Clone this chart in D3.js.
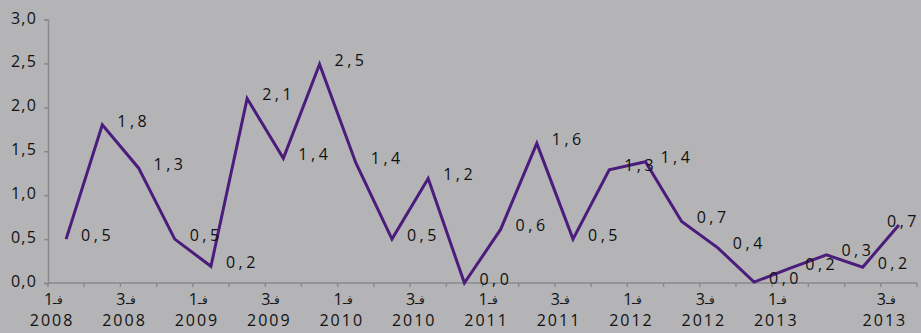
<!DOCTYPE html>
<html><head><meta charset="utf-8">
<script src="https://cdn.jsdelivr.net/npm/d3@7/dist/d3.min.js"></script>
<style>
html,body{margin:0;padding:0;background:#b4b4b6;}
svg{display:block;}
text{font-family:"Open Sans","Noto Sans",sans-serif;fill:#111;}
</style></head>
<body><svg id="c" width="921" height="333"></svg>
<script>
// Quarters 2008 Q1 .. 2013 Q4
const categories = ["2008Q1","2008Q2","2008Q3","2008Q4","2009Q1","2009Q2","2009Q3","2009Q4",
  "2010Q1","2010Q2","2010Q3","2010Q4","2011Q1","2011Q2","2011Q3","2011Q4",
  "2012Q1","2012Q2","2012Q3","2012Q4","2013Q1","2013Q2","2013Q3","2013Q4"];
const values = [0.5,1.8,1.31,0.5,0.19,2.1,1.42,2.49,1.37,0.5,1.19,0.0,0.61,1.59,0.5,1.29,
  1.38,0.70,0.40,0.01,0.17,0.32,0.18,0.66];
// tick labels as shown (quarter number + prefix / year line); blanks are unlabeled
const quarterPrefix = "فـ";
const tickQuarter = ["1","","3","","1","","3","","1","","3","","1","","3","","1","","3","","1","","","3"];
const tickYear = ["2008","","2008","","2009","","2009","","2010","","2010","","2011","","2011","","2012","","2012","","2013","","","2013"];
const yTicks = [0,0.5,1.0,1.5,2.0,2.5,3.0];

const W = 921, H = 333;
const svg = d3.select("#c");
const x = d3.scaleBand().domain(categories).range([48, 917]).padding(0);
const y = d3.scaleLinear().domain([0, 3]).range([283, 19.5]);
const fmt = v => d3.format(".1f")(v).replace(".", ",");
const axisColor = "#8a8a8c";

// Y axis
const yAxis = svg.append("g").attr("transform", "translate(48,0)")
  .call(d3.axisLeft(y).tickValues(yTicks).tickSize(4).tickPadding(7).tickFormat(fmt));
yAxis.select(".domain").attr("stroke", axisColor).attr("stroke-width", 1.5);
yAxis.selectAll(".tick line").attr("stroke", axisColor).attr("stroke-width", 1.5);
yAxis.selectAll("text").attr("font-size", 16).attr("letter-spacing", 1.2)
  .attr("fill", "#111").attr("dy", "0.22em");

// X axis line & boundary ticks
const xg = svg.append("g");
xg.append("line").attr("x1", x.range()[0]).attr("x2", x.range()[1])
  .attr("y1", y(0)).attr("y2", y(0)).attr("stroke", axisColor).attr("stroke-width", 1.5);
const bounds = categories.map(c => x(c)).concat([x.range()[1]]);
xg.selectAll("line.tk").data(bounds).enter().append("line").attr("class", "tk")
  .attr("x1", d => d).attr("x2", d => d).attr("y1", y(0)).attr("y2", y(0) + 4)
  .attr("stroke", axisColor).attr("stroke-width", 1.5);

// X tick labels
const labX = c => x(c) + x.bandwidth() / 2 - 14;
const shown = categories.filter((c, i) => tickQuarter[i] !== "");
const qg = xg.selectAll("g.q").data(shown).enter().append("g").attr("class", "q")
  .attr("transform", c => `translate(${labX(c) + 1},304.5)`);
qg.append("text").attr("text-anchor", "end").attr("font-size", 16)
  .text(c => tickQuarter[categories.indexOf(c)]);
qg.append("text").attr("text-anchor", "start").attr("x", 0).attr("y", -1)
  .attr("font-family", "DejaVu Sans").attr("font-size", 12).text(quarterPrefix);
xg.selectAll("text.yr").data(shown).enter().append("text").attr("class", "yr")
  .attr("x", labX).attr("y", 326).attr("text-anchor", "middle")
  .attr("font-size", 16).attr("letter-spacing", 2)
  .text(c => tickYear[categories.indexOf(c)]);

// Line
const line = d3.line().x((d, i) => x(categories[i]) + x.bandwidth() / 2).y(d => y(d));
svg.append("path").datum(values).attr("d", line).attr("fill", "none")
  .attr("stroke", "#4b1c7c").attr("stroke-width", 3).attr("stroke-linejoin", "miter");

// Data labels
const lbl = svg.append("g").selectAll("text").data(values).enter().append("text")
  .attr("font-size", 16).attr("letter-spacing", 3.5)
  .attr("y", d => y(d) - 4).attr("dy", "0.35em")
  .text(d => fmt(d));
lbl.each(function(d, i) {
  const px = x(categories[i]) + x.bandwidth() / 2 + 15;
  const w = this.getComputedTextLength();
  d3.select(this).attr("x", Math.min(px, W - w - 1));
});
</script></body></html>
